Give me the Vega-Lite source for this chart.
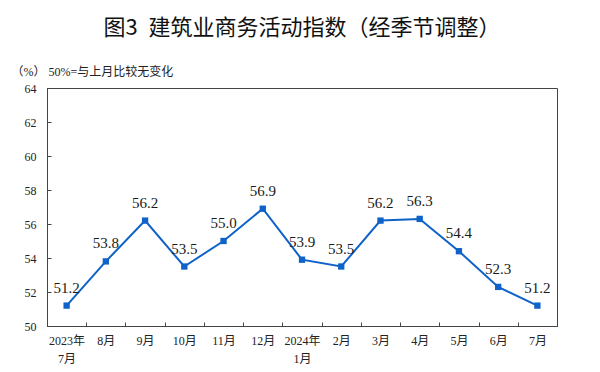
{
  "$schema": "https://vega.github.io/schema/vega-lite/v6.json",
  "width": 510,
  "height": 238,
  "autosize": {"type": "none"},
  "padding": {"left": 47, "top": 88, "right": 43, "bottom": 46},
  "background": "white",
  "view": {"stroke": "#444", "strokeWidth": 1},
  "title": {
    "text": "图3\u2002建筑业商务活动指数（经季节调整）",
    "font": "Noto Sans CJK SC",
    "fontSize": 22,
    "fontWeight": "normal",
    "color": "#111",
    "anchor": "middle",
    "offset": 25
  },
  "data": {
    "values": [
      {"month": "2023年|7月", "value": 51.2},
      {"month": "8月", "value": 53.8},
      {"month": "9月", "value": 56.2},
      {"month": "10月", "value": 53.5},
      {"month": "11月", "value": 55.0},
      {"month": "12月", "value": 56.9},
      {"month": "2024年|1月", "value": 53.9},
      {"month": "2月", "value": 53.5},
      {"month": "3月", "value": 56.2},
      {"month": "4月", "value": 56.3},
      {"month": "5月", "value": 54.4},
      {"month": "6月", "value": 52.3},
      {"month": "7月", "value": 51.2}
    ]
  },
  "encoding": {
    "x": {
      "field": "month",
      "type": "ordinal",
      "sort": null,
      "bandPosition": 0.5,
      "scale": {"type": "band", "paddingInner": 0, "paddingOuter": 0},
      "axis": {
        "title": null,
        "labelAngle": 0,
        "labelExpr": "datum.value ? split(datum.value, '|') : ''",
        "labelFont": "'Liberation Serif', 'Times New Roman', 'Noto Sans CJK SC', serif",
        "labelFontSize": 12,
        "labelColor": "#222",
        "labelLineHeight": 18,
        "labelBaseline": "top",
        "labelPadding": 13,
        "tickBand": "extent",
        "tickSize": -4,
        "tickColor": "#444",
        "domainColor": "#444",
        "grid": false
      }
    },
    "y": {
      "field": "value",
      "type": "quantitative",
      "scale": {"domain": [50, 64], "nice": false, "zero": false},
      "axis": {
        "values": [50, 52, 54, 56, 58, 60, 62, 64],
        "grid": false,
        "tickSize": -4,
        "tickColor": "#444",
        "domainColor": "#444",
        "labelFont": "'Liberation Serif', 'Times New Roman', serif",
        "labelFontSize": 12,
        "labelColor": "#222",
        "labelPadding": 15,
        "title": "（%）  50%=与上月比较无变化",
        "titleFont": "'Liberation Serif', 'Times New Roman', 'Noto Sans CJK SC', serif",
        "titleFontSize": 12,
        "titleFontWeight": "normal",
        "titleColor": "#222",
        "titleAngle": 0,
        "titleAlign": "left",
        "titleBaseline": "middle",
        "titleX": -36,
        "titleY": -17
      }
    }
  },
  "layer": [
    {
      "mark": {"type": "line", "color": "#0e62c8", "strokeWidth": 2,
        "point": {"shape": "square", "size": 40, "filled": true, "color": "#0e62c8", "opacity": 1}}
    },
    {
      "mark": {"type": "text", "font": "'Liberation Serif', 'Times New Roman', serif", "fontSize": 15, "color": "#1a1a1a", "baseline": "alphabetic", "dy": -13},
      "encoding": {"text": {"field": "value", "type": "quantitative", "format": ".1f"}}
    }
  ]
}
